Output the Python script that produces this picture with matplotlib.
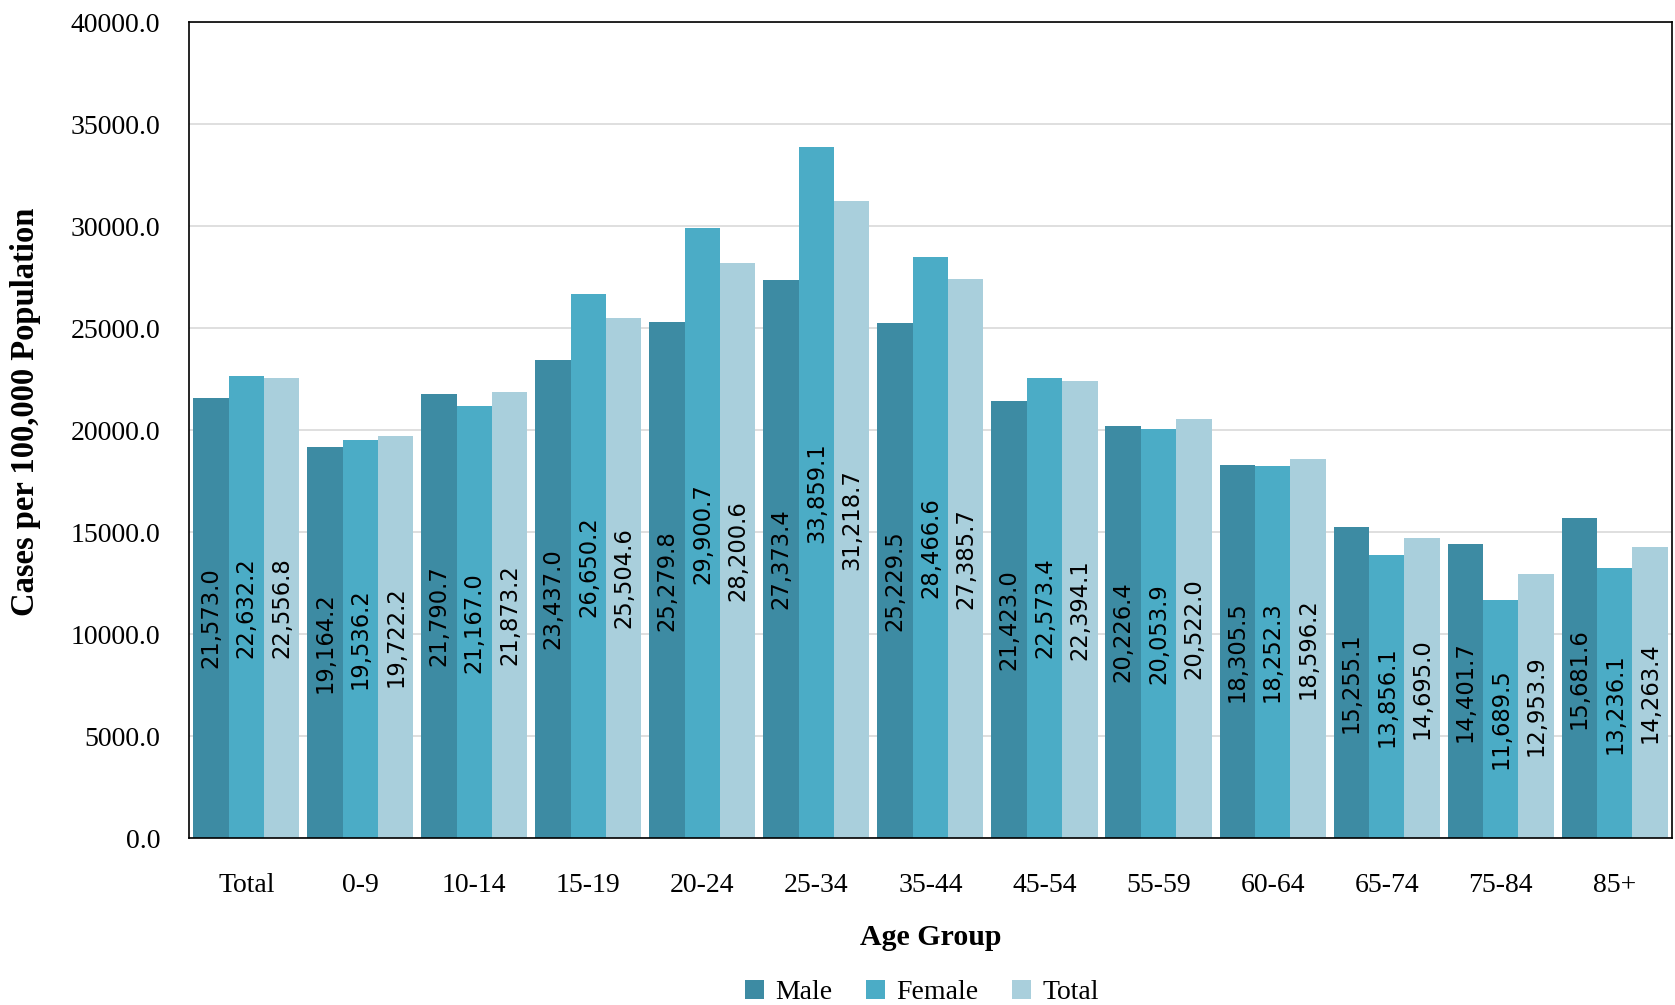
import numpy as np
import matplotlib.pyplot as plt
from matplotlib.ticker import FormatStrFormatter

# Age groups and rates (cases per 100,000 population)
age_groups = ['Total', '0-9', '10-14', '15-19', '20-24', '25-34', '35-44',
              '45-54', '55-59', '60-64', '65-74', '75-84', '85+']
male = [21573.0, 19164.2, 21790.7, 23437.0, 25279.8, 27373.4, 25229.5,
        21423.0, 20226.4, 18305.5, 15255.1, 14401.7, 15681.6]
female = [22632.2, 19536.2, 21167.0, 26650.2, 29900.7, 33859.1, 28466.6,
          22573.4, 20053.9, 18252.3, 13856.1, 11689.5, 13236.1]
total = [22556.8, 19722.2, 21873.2, 25504.6, 28200.6, 31218.7, 27385.7,
         22394.1, 20522.0, 18596.2, 14695.0, 12953.9, 14263.4]

series = [('Male', male, '#3d8ba3'),
          ('Female', female, '#4bacc6'),
          ('Total', total, '#a9cfdc')]

serif = 'Liberation Serif'

fig = plt.figure(figsize=(16.75, 10.05), dpi=100)
ax = fig.add_axes([0.113, 0.166, 0.885, 0.812])

x = np.arange(len(age_groups))
width = 0.31
for i, (name, vals, col) in enumerate(series):
    bars = ax.bar(x + (i - 1) * width, vals, width, color=col, label=name,
                  zorder=2)
    for b, v in zip(bars, vals):
        ax.text(b.get_x() + b.get_width() / 2, v / 2, f"{v:,.1f}",
                rotation=90, ha='center', va='center', fontsize=16.3,
                family='DejaVu Sans', color='black', zorder=3)

ax.set_xlim(-0.5, len(age_groups) - 0.5)
ax.set_ylim(0, 40000)
ax.set_yticks(np.arange(0, 40001, 5000))
ax.yaxis.set_major_formatter(FormatStrFormatter('%.1f'))
ax.set_xticks(x)
ax.set_xticklabels(age_groups)
ax.tick_params(axis='both', length=0, labelsize=20)
ax.tick_params(axis='x', pad=25)
ax.tick_params(axis='y', pad=21)
for lab in ax.get_xticklabels() + ax.get_yticklabels():
    lab.set_family(serif)

ax.grid(axis='y', color='#d9d9d9', linewidth=1.2, zorder=0)
ax.set_axisbelow(True)
for sp in ax.spines.values():
    sp.set_color('black')
    sp.set_linewidth(1.2)

ax.set_ylabel('Cases per 100,000 Population', family=serif,
              fontweight='bold', fontsize=23.5)
ax.yaxis.set_label_coords(-0.100, 0.523)
ax.set_xlabel('Age Group', family=serif, fontweight='bold', fontsize=21.5,
              labelpad=19)

ax.legend(loc='center', bbox_to_anchor=(0.494, -0.189), ncol=3,
          frameon=False, prop={'family': serif, 'size': 20},
          handlelength=0.7, handleheight=0.7, handletextpad=0.4,
          columnspacing=1.2)

plt.savefig('out.png', dpi=100)
